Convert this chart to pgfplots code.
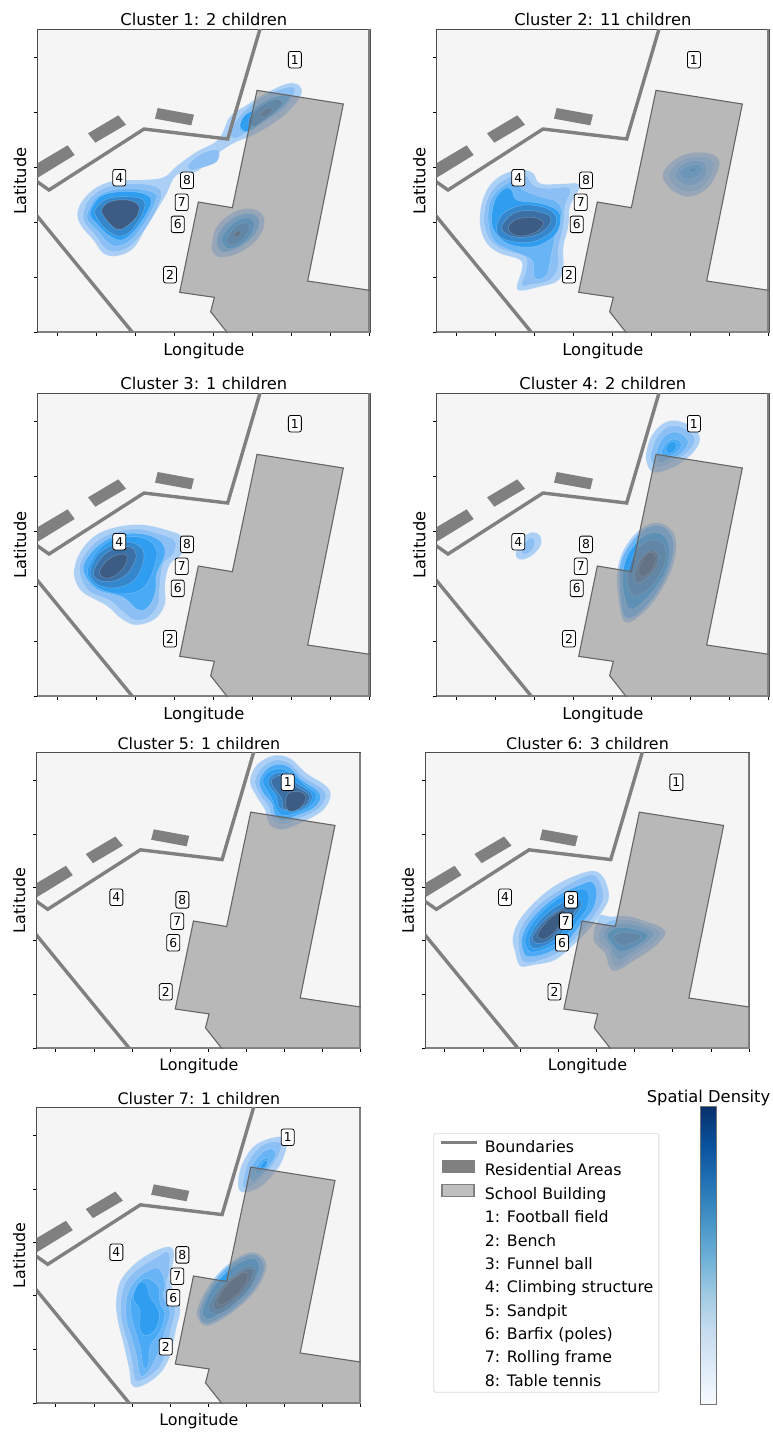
\documentclass[border=0pt]{standalone}
\usepackage{fontspec}
\setmainfont{DejaVu Sans}
\usepackage{pgfplots}
\pgfplotsset{compat=1.18}

\definecolor{mapbg}{HTML}{F5F5F5}
\definecolor{mapgrey}{HTML}{808080}
\definecolor{bldfill}{HTML}{868686}
\definecolor{bldedge}{HTML}{666666}
\definecolor{ca}{RGB}{171,207,245}
\definecolor{cb}{RGB}{140,192,245}
\definecolor{cc}{RGB}{105,180,245}
\definecolor{cd}{RGB}{75,170,245}
\definecolor{ce}{RGB}{47,157,240}
\definecolor{cf}{RGB}{52,135,205}
\definecolor{cg}{RGB}{58,112,165}
\definecolor{ch}{RGB}{60,92,132}

\newcommand{\fsA}{\fontsize{16.3}{19}\selectfont}
\newcommand{\fsB}{\fontsize{15.9}{19}\selectfont}

\tikzset{
  tag/.style={draw=black, fill=white, rounded corners=2.2pt, line width=0.8pt,
    inner sep=0pt, minimum width=13pt, minimum height=16.5pt,
    font=\fontsize{12.3}{12.3}\selectfont},
}
\pgfplotsset{
  kdeaxis/.style={scale only axis, y dir=reverse, xtick=\empty, ytick=\empty,
    axis line style={draw=none}, axis background/.style={fill=mapbg}},
  kde/.style={forget plot, no markers, smooth cycle, tension=0.6,
    draw=white, draw opacity=0.25, line width=0.5pt},
  mapaxis/.style={scale only axis, y dir=reverse,
    xmin=113, xmax=1110, ymin=88, ymax=998,
    xtick={172,290,406,523,640,757,874,991,1108},
    ytick={172,338,503,667,832,998},
    xticklabels={}, yticklabels={},
    tick align=outside, tick pos=left, major tick length=3.5pt,
    every tick/.style={black, line width=0.8pt},
    axis line style={draw=black!70, line width=1pt},
    xlabel=Longitude, ylabel=Latitude,
    xlabel style={at={(0.5,0)}, anchor=center, yshift=-18pt},
    ylabel style={at={(0,0.5)}, anchor=center, rotate=0, yshift=17.5pt},
    title style={at={(0.5,1)}, anchor=center, yshift=3.5pt}},
  sizeA/.style={width=332.33pt, height=303.33pt,
    label style={font=\fsA}, title style={font=\fsA}},
  sizeB/.style={width=324.33pt, height=295.67pt,
    label style={font=\fsB}, title style={font=\fsB}},
  blank/.style={legend image code/.code={\path[draw=none] (0pt,-1pt) rectangle (36pt,11pt);}},
}

\newcommand{\lev}[2]{\addplot[kde, fill=#1] coordinates {#2};}

\newcommand{\basemap}{%
  \addplot[forget plot, mapgrey, line width=3.4pt] coordinates {(113,998) (1110,998) (1110,88)};
  \addplot[forget plot, fill=mapgrey, draw=none] coordinates {(90,503) (203,436) (224,465) (110,535)} --cycle;
  \addplot[forget plot, fill=mapgrey, draw=none] coordinates {(264,400) (355,346) (378,374) (286,428)} --cycle;
  \addplot[forget plot, fill=mapgrey, draw=none] coordinates {(473,324) (582,344) (574,376) (465,356)} --cycle;
  \addplot[forget plot, mapgrey, line width=3.4pt] coordinates {(90,530) (147,570) (432,387) (683,417) (785,70)};
  \addplot[forget plot, mapgrey, line width=3.4pt] coordinates {(90,622) (398,998) (415,1020)};
  \addplot[forget plot, fill=bldfill, fill opacity=0.55, draw=bldedge, line width=1.1pt]
    coordinates {(771,271) (1030,312) (923,843) (1130,874) (1130,1020) (700,1021) (632,935) (643,892) (539,877) (595,606) (697,623)} --cycle;
  \node[tag] at (rel axis cs:0.774,0.900) {1};
  \node[tag] at (rel axis cs:0.3982,0.1912) {2};
  \node[tag] at (rel axis cs:0.2457,0.5110) {4};
  \node[tag] at (rel axis cs:0.4213,0.3571) {6};
  \node[tag] at (rel axis cs:0.4333,0.4297) {7};
  \node[tag] at (rel axis cs:0.4493,0.5022) {8};
}

\begin{document}
\begin{tikzpicture}
\path[use as bounding box] (0pt,0pt) rectangle (773pt,-1432pt);

% ---------- Cluster 1
\begin{axis}[kdeaxis, sizeA, at={(37.67pt,-332.67pt)}, xmin=113, xmax=1110, ymin=88, ymax=998]
\lev{ca}{(232,645) (245,605) (285,565) (340,543) (420,540) (490,532) (530,498) (590,455) (655,418) (690,350) (740,315) (800,278) (865,250) (900,258) (903,285) (870,330) (820,370) (760,405) (700,430) (640,470) (590,515) (530,525) (495,590) (440,680) (400,745) (350,768) (310,760) (280,720) (245,680)}
\lev{cb}{(250,640) (265,600) (310,565) (370,553) (440,553) (482,570) (478,610) (440,680) (395,735) (350,755) (315,745) (285,705) (255,670)}
\lev{cb}{(565,492) (610,458) (655,450) (650,485) (600,505) (570,510)}
\lev{cb}{(690,395) (730,335) (790,290) (860,262) (885,270) (860,320) (800,365) (740,398) (705,415)}
\lev{cc}{(262,640) (285,595) (330,572) (400,565) (465,580) (465,610) (430,675) (390,722) (350,738) (320,725) (290,690) (265,665)}
\lev{cd}{(720,385) (745,340) (800,300) (850,285) (870,290) (845,325) (790,365) (745,395)}
\lev{ce}{(270,640) (300,590) (360,575) (420,578) (452,595) (445,630) (405,690) (365,720) (325,705) (290,670)}
\lev{ce}{(720,378) (735,345) (765,335) (755,375) (740,395)}
\lev{cf}{(285,630) (320,597) (380,590) (430,600) (428,640) (390,695) (355,708) (320,690) (295,660)}
\lev{cf}{(745,360) (780,320) (830,298) (845,315) (800,355) (760,380)}
\lev{ch}{(305,630) (330,605) (380,600) (415,615) (410,650) (375,682) (350,688) (320,660)}
\lev{cg}{(778,345) (800,325) (818,328) (800,347) (785,350)}
\lev{ca}{(635,735) (650,680) (695,640) (745,625) (785,640) (792,680) (765,725) (715,760) (665,772) (640,760)}
\lev{cc}{(650,725) (665,685) (705,650) (750,640) (775,655) (775,685) (750,720) (705,748) (665,755)}
\lev{ce}{(665,722) (680,690) (715,660) (750,655) (762,670) (755,700) (720,735) (685,745)}
\lev{cf}{(680,722) (705,680) (740,668) (748,690) (720,725) (695,735)}
\lev{ch}{(702,705) (715,693) (722,697) (712,710)}
\end{axis}
\begin{axis}[mapaxis, sizeA, at={(37.67pt,-332.67pt)}, title={Cluster 1: 2 children}]
\basemap
\end{axis}

% ---------- Cluster 2
\begin{axis}[kdeaxis, sizeA, at={(436.67pt,-332.67pt)}, xmin=110, xmax=1107, ymin=88, ymax=998]
\lev{ca}{(240,675) (245,610) (270,555) (315,520) (370,510) (400,520) (420,550) (480,552) (530,550) (538,565) (510,620) (505,680) (490,740) (490,810) (470,845) (420,860) (365,872) (350,860) (365,810) (360,780) (300,760) (260,730)}
\lev{cb}{(252,670) (258,610) (285,560) (330,530) (375,525) (400,555) (440,565) (510,565) (495,620) (490,680) (475,745) (475,800) (450,840) (390,855) (365,855) (378,810) (375,770) (310,750) (270,720)}
\lev{cc}{(265,670) (270,605) (300,565) (340,545) (370,570) (420,590) (470,605) (487,640) (470,690) (455,760) (440,825) (405,835) (395,780) (340,755) (285,725)}
\lev{ce}{(275,670) (285,600) (315,565) (335,570) (350,600) (420,610) (470,630) (482,660) (465,705) (410,738) (345,738) (300,715)}
\lev{cf}{(290,680) (310,640) (370,615) (440,625) (470,655) (455,695) (400,725) (340,725) (300,710)}
\lev{cg}{(305,680) (340,640) (395,632) (445,645) (450,670) (420,700) (370,712) (325,705)}
\lev{ch}{(325,680) (350,658) (400,652) (430,668) (410,695) (365,708) (335,700)}
\lev{ca}{(788,530) (805,495) (850,465) (905,457) (950,470) (957,500) (935,550) (900,580) (860,590) (815,570)}
\lev{cb}{(805,528) (825,495) (860,475) (905,470) (940,485) (935,525) (905,565) (860,575) (825,560)}
\lev{cc}{(825,525) (845,495) (880,482) (915,490) (915,530) (880,555) (845,550)}
\lev{cd}{(840,515) (870,495) (900,495) (905,515) (880,535) (850,535)}
\lev{ce}{(865,510) (880,503) (890,510) (875,518)}
\end{axis}
\begin{axis}[mapaxis, sizeA, at={(436.67pt,-332.67pt)}, title={Cluster 2: 11 children}]
\basemap
\end{axis}

% ---------- Cluster 3
\begin{axis}[kdeaxis, sizeA, at={(37.67pt,-696.67pt)}, xmin=113, xmax=1110, ymin=88, ymax=998]
\lev{ca}{(222,620) (240,565) (285,515) (345,490) (420,482) (490,495) (550,520) (545,570) (510,600) (495,660) (495,720) (465,765) (410,783) (365,765) (320,725) (255,690) (230,660)}
\lev{cb}{(238,620) (255,570) (300,525) (360,500) (420,495) (480,510) (525,530) (520,570) (490,600) (480,660) (475,720) (445,760) (405,768) (370,745) (330,710) (265,680)}
\lev{cd}{(250,620) (270,570) (315,530) (370,510) (430,510) (480,530) (495,570) (470,630) (465,690) (440,733) (410,735) (370,700) (290,675)}
\lev{ce}{(262,625) (285,570) (330,530) (385,518) (440,525) (470,560) (462,610) (440,660) (405,685) (340,688) (285,665)}
\lev{cf}{(270,625) (295,570) (345,540) (395,535) (430,560) (425,610) (395,655) (340,672) (290,660)}
\lev{cg}{(280,625) (310,575) (350,552) (395,550) (408,580) (385,625) (345,650) (300,650)}
\lev{ch}{(298,625) (320,590) (355,572) (380,575) (375,605) (345,635) (315,642)}
\end{axis}
\begin{axis}[mapaxis, sizeA, at={(37.67pt,-696.67pt)}, title={Cluster 3: 1 children}]
\basemap
\end{axis}

% ---------- Cluster 4
\begin{axis}[kdeaxis, sizeA, at={(436.67pt,-696.67pt)}, xmin=110, xmax=1107, ymin=88, ymax=998]
\lev{ca}{(738,270) (755,215) (790,178) (830,170) (880,190) (900,225) (880,265) (830,305) (770,326) (745,310)}
\lev{cb}{(752,270) (770,220) (800,190) (835,185) (870,205) (885,230) (860,268) (815,295) (775,310) (755,295)}
\lev{cc}{(768,270) (785,225) (815,205) (845,210) (865,235) (845,268) (810,285) (780,295)}
\lev{cd}{(785,262) (800,235) (825,225) (845,240) (830,265) (805,278) (788,280)}
\lev{ce}{(798,252) (815,232) (830,240) (825,258) (805,268)}
\lev{ca}{(348,565) (365,525) (395,505) (420,515) (422,545) (395,575) (365,587) (350,580)}
\lev{cb}{(365,565) (375,535) (395,520) (405,535) (395,560) (375,572)}
\lev{ca}{(651,640) (665,570) (705,510) (750,480) (790,480) (825,515) (825,580) (800,650) (755,720) (700,770) (670,770) (658,720)}
\lev{cc}{(658,640) (668,578) (710,515) (752,487) (793,490) (820,530) (815,590) (790,655) (745,720) (695,762) (668,745)}
\lev{ce}{(668,640) (680,580) (720,525) (765,505) (800,525) (808,580) (785,645) (730,712) (690,735) (672,690)}
\lev{cf}{(682,635) (705,565) (745,530) (790,540) (795,595) (760,660) (712,695) (690,680)}
\lev{cg}{(705,625) (725,580) (755,560) (775,575) (765,615) (730,650) (710,655)}
\lev{ch}{(715,620) (735,575) (755,565) (768,585) (750,625) (725,637)}
\end{axis}
\begin{axis}[mapaxis, sizeA, at={(436.67pt,-696.67pt)}, title={Cluster 4: 2 children}]
\basemap
\end{axis}

% ---------- Cluster 5
\begin{axis}[kdeaxis, sizeB, at={(36.67pt,-1048.33pt)}, xmin=110, xmax=1083, ymin=53, ymax=940]
\lev{ca}{(750,140) (770,90) (820,62) (870,70) (920,115) (975,150) (992,180) (970,225) (910,260) (850,283) (810,270) (795,225) (770,185)}
\lev{cb}{(765,140) (785,98) (825,75) (870,85) (910,125) (965,160) (978,185) (955,222) (900,250) (850,268) (820,255) (805,215) (780,180)}
\lev{cd}{(778,140) (800,102) (835,88) (870,98) (905,135) (950,165) (962,190) (940,220) (895,240) (850,255) (825,240) (815,205) (790,175)}
\lev{ce}{(788,135) (810,108) (845,102) (880,120) (915,150) (950,180) (930,215) (885,235) (845,240) (825,215) (815,190) (800,165)}
\lev{cf}{(805,135) (825,115) (860,115) (885,140) (930,170) (935,195) (910,222) (870,228) (838,218) (828,180) (810,158)}
\lev{cg}{(815,135) (838,122) (870,135) (890,155) (925,178) (922,205) (885,222) (850,220) (845,190) (820,155)}
\lev{ch}{(857,190) (870,172) (900,170) (918,185) (905,215) (875,230) (860,220)}
\end{axis}
\begin{axis}[mapaxis, sizeB, at={(36.67pt,-1048.33pt)}, title={Cluster 5: 1 children}]
\basemap
\end{axis}

% ---------- Cluster 6
\begin{axis}[kdeaxis, sizeB, at={(425.33pt,-1048.33pt)}, xmin=106, xmax=1079, ymin=53, ymax=940]
\lev{ca}{(368,610) (385,560) (430,505) (490,455) (560,420) (615,408) (645,435) (657,485) (640,525) (600,580) (550,630) (495,675) (430,690) (390,693) (375,650)}
\lev{ca}{(610,600) (618,565) (632,540) (660,545) (710,543) (770,560) (815,578) (825,600) (795,635) (735,675) (680,707) (658,695) (645,655) (615,625)}
\lev{cb}{(385,612) (400,565) (445,510) (500,470) (565,432) (610,420) (632,445) (640,490) (615,540) (575,590) (525,640) (470,670) (400,680)}
\lev{cd}{(395,612) (415,565) (460,515) (515,475) (570,450) (605,440) (620,470) (610,520) (575,565) (530,620) (470,655) (415,665) (400,650)}
\lev{ce}{(405,612) (430,560) (485,505) (545,470) (590,465) (595,510) (570,550) (520,610) (470,640) (420,650)}
\lev{cf}{(418,610) (450,555) (505,510) (555,490) (575,505) (555,545) (510,600) (470,630) (430,640)}
\lev{cg}{(428,605) (465,555) (515,520) (560,505) (555,530) (520,570) (480,615) (440,625)}
\lev{ch}{(442,600) (470,560) (510,528) (530,530) (515,560) (490,595) (460,613)}
\lev{cb}{(625,600) (640,570) (670,555) (720,555) (770,570) (810,590) (795,620) (735,660) (685,695) (665,680) (655,645) (630,625)}
\lev{cc}{(640,600) (655,575) (690,565) (740,570) (790,590) (780,615) (730,650) (690,675) (672,660) (660,635)}
\lev{ce}{(652,600) (675,580) (720,580) (770,595) (765,615) (725,640) (690,650) (665,625)}
\lev{cf}{(672,605) (700,592) (750,600) (745,615) (705,630) (685,625)}
\end{axis}
\begin{axis}[mapaxis, sizeB, at={(425.33pt,-1048.33pt)}, title={Cluster 6: 3 children}]
\basemap
\end{axis}

% ---------- Cluster 7
\begin{axis}[kdeaxis, sizeB, at={(36.67pt,-1403.33pt)}, xmin=110, xmax=1083, ymin=53, ymax=940]
\lev{ca}{(348,640) (360,575) (400,525) (450,490) (505,470) (522,490) (515,540) (510,575) (540,650) (530,710) (505,810) (470,860) (420,890) (395,885) (388,840) (370,760) (355,700)}
\lev{cb}{(362,640) (375,580) (415,535) (465,505) (505,485) (508,540) (500,590) (525,655) (515,710) (490,810) (460,850) (415,875) (402,860) (395,810) (380,750) (365,695)}
\lev{cc}{(378,640) (392,590) (430,550) (475,535) (495,580) (490,620) (510,665) (495,725) (470,800) (440,850) (420,855) (410,800) (395,745) (380,695)}
\lev{cd}{(392,635) (410,585) (440,565) (475,590) (480,640) (495,670) (480,725) (450,770) (445,825) (430,830) (420,770) (405,720) (395,680)}
\lev{ce}{(400,625) (415,582) (438,580) (450,620) (470,650) (478,680) (465,720) (435,737) (418,710) (420,660)}
\lev{ca}{(590,670) (610,615) (655,550) (710,505) (760,487) (795,510) (795,550) (760,610) (700,665) (640,702) (610,705)}
\lev{cc}{(598,665) (618,615) (660,552) (712,510) (760,493) (788,515) (788,552) (752,610) (695,662) (638,695) (608,698)}
\lev{ce}{(608,662) (628,612) (668,557) (718,518) (760,505) (778,525) (772,555) (740,610) (690,650) (640,682) (615,685)}
\lev{cf}{(625,655) (650,605) (695,560) (740,528) (768,540) (755,585) (705,640) (655,672)}
\lev{cg}{(640,645) (665,595) (710,555) (750,535) (760,550) (740,590) (700,632) (655,660)}
\lev{ch}{(653,630) (680,585) (720,553) (740,548) (742,570) (715,610) (675,640) (658,645)}
\lev{ca}{(714,280) (725,225) (760,170) (810,145) (855,142) (860,170) (840,225) (795,280) (750,305) (722,305)}
\lev{cb}{(730,270) (745,215) (780,170) (820,155) (845,165) (825,215) (780,270) (745,295) (730,292)}
\lev{cc}{(748,255) (760,220) (790,185) (820,178) (825,200) (795,245) (760,275)}
\lev{cd}{(765,240) (785,210) (805,205) (800,230) (775,252)}
\lev{ce}{(780,232) (795,212) (803,215) (795,232)}
\end{axis}
\begin{axis}[mapaxis, sizeB, at={(36.67pt,-1403.33pt)}, title={Cluster 7: 1 children}]
\basemap
\end{axis}

% ---------- legend
\begin{axis}[scale only axis, hide axis, at={(433.3pt,-1395.3pt)}, width=226pt, height=262pt,
  xmin=0, xmax=1, ymin=0, ymax=1,
  legend cell align=left,
  legend style={at={(0,1)}, anchor=north west, draw=black!15, rounded corners=1.5pt,
    line width=0.8pt, font=\fontsize{15.8}{16}\selectfont, inner xsep=5.5pt, inner ysep=3pt,
    row sep=4.8pt, nodes={inner sep=0pt, text height=11.8pt, text depth=3.2pt},
    /tikz/every odd column/.append style={column sep=6.3pt}}]
\addlegendimage{legend image code/.code={\path[draw=none] (0pt,-1pt) rectangle (36pt,11pt); \draw[sharp corners, mapgrey, line width=3.4pt] (0pt,5pt)--(36pt,5pt);}}
\addlegendentry{Boundaries}
\addlegendimage{legend image code/.code={\path[draw=none] (0pt,-1pt) rectangle (36pt,11pt); \fill[sharp corners, mapgrey] (1pt,-1pt) rectangle (33pt,11pt);}}
\addlegendentry{Residential Areas}
\addlegendimage{legend image code/.code={\path[draw=none] (0pt,-1pt) rectangle (36pt,11pt); \draw[sharp corners, fill=black!25, draw=black!50, line width=1.2pt] (1pt,-1pt) rectangle (33pt,11pt);}}
\addlegendentry{School Building}
\addlegendimage{blank}
\addlegendentry{1: Football field}
\addlegendimage{blank}
\addlegendentry{2: Bench}
\addlegendimage{blank}
\addlegendentry{3: Funnel ball}
\addlegendimage{blank}
\addlegendentry{4: Climbing structure}
\addlegendimage{blank}
\addlegendentry{5: Sandpit}
\addlegendimage{blank}
\addlegendentry{6: Barfix (poles)}
\addlegendimage{blank}
\addlegendentry{7: Rolling frame}
\addlegendimage{blank}
\addlegendentry{8: Table tennis}
\end{axis}

% ---------- colour bar
\begin{axis}[scale only axis, at={(700.3pt,-1404.3pt)}, width=16.4pt, height=297.6pt,
  xmin=0, xmax=1, ymin=0, ymax=1, xtick=\empty, ytick=\empty, axis on top,
  axis line style={draw=black!55, line width=1pt},
  colormap={blues}{rgb255=(247,251,255) rgb255=(222,235,247) rgb255=(198,219,239) rgb255=(158,202,225) rgb255=(107,174,214) rgb255=(66,146,198) rgb255=(33,113,181) rgb255=(8,81,156) rgb255=(8,48,107)},
  point meta min=0, point meta max=1,
  title={Spatial Density}, title style={at={(0.5,1)}, anchor=center, yshift=2.5pt, font=\fsA}]
\addplot[surf, shader=interp, point meta=y, mesh/cols=2] table {
x y
0 0
1 0
0 0.125
1 0.125
0 0.25
1 0.25
0 0.375
1 0.375
0 0.5
1 0.5
0 0.625
1 0.625
0 0.75
1 0.75
0 0.875
1 0.875
0 1
1 1
};
\end{axis}
\end{tikzpicture}
\end{document}
